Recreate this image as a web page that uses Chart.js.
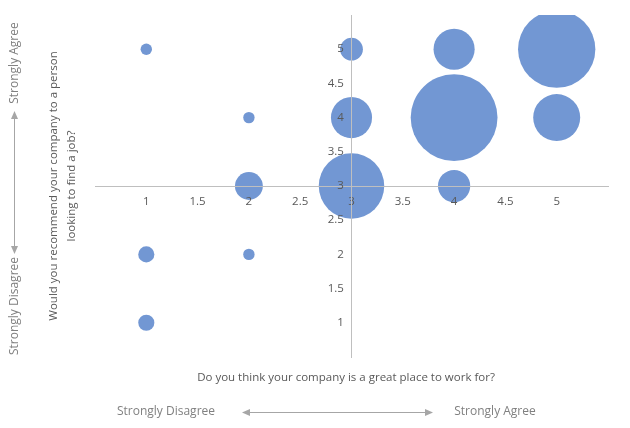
<!DOCTYPE html>
<html>
<head>
<meta charset="utf-8">
<script src="https://cdn.jsdelivr.net/npm/chart.js@4.4.0/dist/chart.umd.min.js"></script>
<style>
  html, body { margin: 0; padding: 0; background: #fff; }
  #wrap { width: 630px; height: 428px; position: relative; }
</style>
</head>
<body>
<div id="wrap"><canvas id="myChart"></canvas></div>
<script>
// survey answers (1 = strongly disagree ... 5 = strongly agree)
var greatPlace = [1, 1, 1, 2, 2, 2, 3, 3, 3, 4, 4, 4, 5, 5];
var recommend  = [5, 2, 1, 4, 3, 2, 5, 4, 3, 5, 4, 3, 5, 4];
var responses  = [1, 2, 2, 1, 6, 1, 4, 13, 33, 13, 58, 8, 46, 17];

var xTitle = 'Do you think your company is a great place to work for?';
var yTitle = ['Would you recommend your company to a person', 'looking to find a job?'];
var lowLabel = 'Strongly Disagree';
var highLabel = 'Strongly Agree';

var FONT = '"Open Sans", "Noto Sans", sans-serif';

// bubble area grows with the number of responses
function radiusFor(n) { return 5.7 * Math.sqrt(n); }

var points = greatPlace.map(function (x, i) {
    return {x: x, y: recommend[i], r: radiusFor(responses[i])};
});

function hideEnds(value) {
    if (value === 0.5 || value === 5.5) return '';
    return value;
}
// y labels sit a little left of the crossing axis
function hideEndsY(value) {
    var s = hideEnds(value);
    return s === '' ? '' : s + '\u2002\u2009';
}

function arrowHead(ctx, x, y, dx, dy) {
    // small filled triangle pointing in direction (dx, dy)
    var len = 8, half = 3.5;
    ctx.beginPath();
    ctx.moveTo(x, y);
    ctx.lineTo(x - dx * len - dy * half, y - dy * len + dx * half);
    ctx.lineTo(x - dx * len + dy * half, y - dy * len - dx * half);
    ctx.closePath();
    ctx.fill();
}

var annotations = {
    id: 'annotations',
    afterDraw: function (chart) {
        var ctx = chart.ctx;
        ctx.save();
        ctx.textAlign = 'center';
        ctx.textBaseline = 'middle';

        // axis titles
        ctx.fillStyle = '#595959';
        ctx.font = '11.5px ' + FONT;
        ctx.fillText(xTitle, 346, 378);

        ctx.save();
        ctx.translate(0, 186);
        ctx.rotate(-Math.PI / 2);
        ctx.fillText(yTitle[0], 0, 54);
        ctx.fillText(yTitle[1], 0, 72);
        ctx.restore();

        // strongly disagree / agree hints
        ctx.fillStyle = '#808080';
        ctx.font = '12px ' + FONT;
        ctx.fillText(lowLabel, 166, 412);
        ctx.fillText(highLabel, 495, 412);

        ctx.save();
        ctx.translate(15, 0);
        ctx.rotate(-Math.PI / 2);
        ctx.fillText(highLabel, -63, 0);
        ctx.fillText(lowLabel, -306, 0);
        ctx.restore();

        ctx.strokeStyle = '#a6a6a6';
        ctx.fillStyle = '#a6a6a6';
        ctx.lineWidth = 1;
        ctx.beginPath();
        ctx.moveTo(244, 412.5); ctx.lineTo(430, 412.5);
        ctx.moveTo(14.5, 114); ctx.lineTo(14.5, 251);
        ctx.stroke();
        arrowHead(ctx, 242, 412.5, -1, 0);
        arrowHead(ctx, 433, 412.5, 1, 0);
        arrowHead(ctx, 14.5, 111, 0, -1);
        arrowHead(ctx, 14.5, 254, 0, 1);

        ctx.restore();
    }
};

var ctx = document.getElementById('myChart').getContext('2d');
var myChart = new Chart(ctx, {
    type: 'bubble',
    data: {
        datasets: [{
            data: points,
            backgroundColor: '#7297d3',
            borderWidth: 0,
            clip: 0
        }]
    },
    options: {
        responsive: true,
        maintainAspectRatio: false,
        animation: false,
        layout: {autoPadding: false, padding: {left: 95, right: 22, top: 15, bottom: 71}},
        plugins: {
            legend: {display: false},
            tooltip: {enabled: false}
        },
        scales: {
            x: {
                type: 'linear',
                min: 0.5,
                max: 5.5,
                position: {y: 3},
                grid: {display: false, drawTicks: false},
                border: {display: true, color: '#bfbfbf', width: 1, z: 1},
                ticks: {
                    stepSize: 0.5,
                    autoSkip: false,
                    maxRotation: 0,
                    padding: 9,
                    z: 1,
                    color: '#595959',
                    font: {family: FONT, size: 11.5},
                    callback: hideEnds
                }
            },
            y: {
                type: 'linear',
                min: 0.5,
                max: 5.5,
                position: {x: 3},
                grid: {display: false, drawTicks: false},
                border: {display: true, color: '#bfbfbf', width: 1, z: 1},
                ticks: {
                    stepSize: 0.5,
                    autoSkip: false,
                    padding: 8,
                    z: 1,
                    color: '#595959',
                    font: {family: FONT, size: 11.5},
                    callback: hideEndsY
                }
            }
        }
    },
    plugins: [annotations]
});
</script>
</body>
</html>
